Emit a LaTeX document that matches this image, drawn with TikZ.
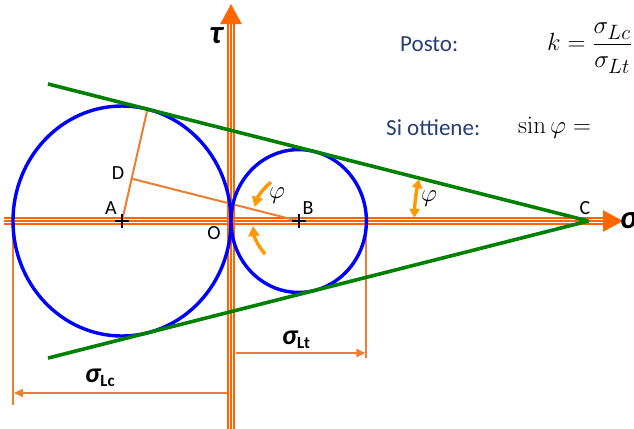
\documentclass[tikz,border=0pt]{standalone}
\usepackage{amsmath}
\usepackage[no-math]{fontspec}
\setmainfont{Carlito}
\usepackage{tikz}
\usetikzlibrary{arrows.meta,calc,shapes.misc}

\definecolor{axo}{RGB}{255,102,0}
\definecolor{lno}{RGB}{237,125,49}
\definecolor{phio}{RGB}{255,153,0}
\definecolor{circb}{RGB}{0,0,255}
\definecolor{tang}{RGB}{0,128,0}
\definecolor{txtb}{RGB}{41,61,112}

\begin{document}
\begin{tikzpicture}[
  x=1pt, y=1.055pt,
  lbl/.style={font=\fontsize{20}{22}\selectfont, inner sep=0pt},
  note/.style={font=\fontsize{23}{26}\selectfont, text=txtb, anchor=west, inner sep=0pt},
  eq/.style={font=\fontsize{28}{30}\selectfont, anchor=west, inner sep=0pt},
  big/.style={font=\fontsize{33}{34}\selectfont\bfseries\itshape, inner sep=0pt},
  sub/.style={font=\fontsize{28}{30}\selectfont\bfseries\itshape, inner sep=0pt},
  phil/.style={font=\fontsize{25}{26}\selectfont, inner sep=0pt},
  axshaft/.style={draw=axo, line width=1.6pt, double=white, double distance=4.6pt},
  axcore/.style={draw=axo, line width=2.4pt, -{Triangle[length=20pt,width=21pt]}},
  ln/.style={draw=lno, line width=2pt},
  dim/.style={ln, -{Triangle[length=9pt,width=8pt]}},
  circ/.style={draw=circb, line width=3.4pt},
  tg/.style={draw=tang, line width=3.6pt},
  ang/.style={draw=phio, line width=3.4pt},
  angtip/.style={ang, -{Triangle[length=10pt,width=11pt]}},
  angboth/.style={ang, {Triangle[length=9pt,width=10pt]}-{Triangle[length=9pt,width=10pt]}},
  plus/.style={draw=black, cross out, rotate=45, line width=1.8pt, minimum size=8pt, inner sep=0pt}
]
\useasboundingbox (-231,-196.2) rectangle (403,209.5);

\coordinate (O) at (0,0);
\coordinate (A) at (-109,0);
\coordinate (B) at (67.7,0);
\coordinate (C) at (357.4,0);
\coordinate (T) at (-83.53,105.98);
\coordinate (Tb) at (-83.53,-105.98);
\coordinate (D) at (-99.35,40.15);
\coordinate (G) at (-183,129.9);
\coordinate (Gb) at (-183,-129.9);

\coordinate (xs) at (-227,0);
\coordinate (xe) at (372,0);
\coordinate (xt) at (392,0);
\coordinate (ys) at (0,-198);
\coordinate (ye) at (0,186.7);
\coordinate (yt) at (0,205.7);

\draw[axshaft] (xs) -- (xe);
\draw[axcore] (xs) -- (xt);
\draw[axshaft] (ys) -- (ye);
\draw[axcore] (ys) -- (yt);

\coordinate (ltx) at (135.4,0);
\coordinate (ltb) at (135.4,-130);
\coordinate (lts) at (5,-125.1);
\coordinate (lte) at (134.4,-125.1);
\coordinate (lcx) at (-218,0);
\coordinate (lcb) at (-218,-174.4);
\coordinate (lcs) at (-4,-163);
\coordinate (lce) at (-217,-163);

\draw[ln] (ltx) -- (ltb);
\draw[dim] (lts) -- (lte);
\draw[ln] (lcx) -- (lcb);
\draw[dim] (lcs) -- (lce);

\draw[ln] (A) -- (T);
\draw[ln] (D) -- (B);

\draw[circ] (A) circle[radius=109];
\draw[circ] (B) circle[radius=67.7];

\draw[tg] (G) -- (C);
\draw[tg] (Gb) -- (C);

\draw[angtip] ($(B)+(127:46)$) arc[start angle=127, end angle=163, radius=46];
\draw[angtip] ($(B)+(223:46)$) arc[start angle=223, end angle=186, radius=46];
\draw[angboth] ($(C)+(179:174)$) arc[start angle=179, end angle=166.8, radius=174];

\node[plus] (Am) at (A) {};
\node[plus] (Bm) at (B) {};

\node[lbl] (lA) at (-120,12.3) {A};
\node[lbl] (lD) at (-113,45.5) {D};
\node[lbl] (lO) at (-17,-11.4) {O};
\node[lbl] (lB) at (77,12.3) {B};
\node[lbl] (lC) at (354,12.3) {C};
\node[phil] (phiB) at (46,23.7) {$\varphi$};
\node[phil] (phiC) at (198,20.9) {$\varphi$};

\node[big] (tau) at (-15,175.4) {τ};
\node[big, anchor=west] (sig) at (389,0) {σ};
\node[sub] (slt) at (65,-112.3) {σ\raisebox{-0.3ex}{\fontsize{17}{17}\selectfont\upshape Lt}};
\node[sub] (slc) at (-131,-148.8) {σ\raisebox{-0.3ex}{\fontsize{17}{17}\selectfont\upshape Lc}};

\node[note] (posto) at (169,167.8) {Posto:};
\node[note] (sio) at (155,88.2) {Si ottiene:};
\node[eq] (keq) at (316,164) {$k=\dfrac{\sigma_{Lc}}{\sigma_{Lt}}$};
\node[eq] (sineq) at (287,88.2) {$\sin\varphi=$};
\end{tikzpicture}
\end{document}
